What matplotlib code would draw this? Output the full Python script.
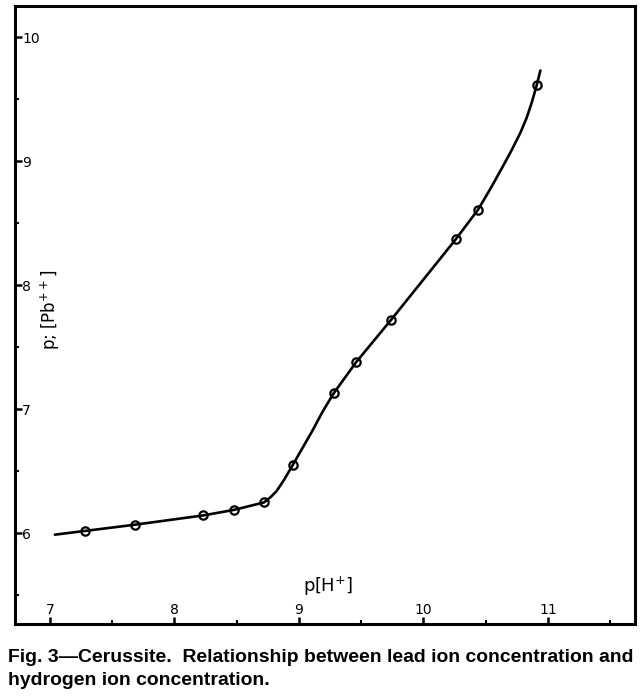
import matplotlib.pyplot as plt
from matplotlib.ticker import MultipleLocator

# measured points (circles)
ph_points = [7.28, 7.68, 8.23, 8.48, 8.72, 8.95, 9.28, 9.46, 9.74, 10.26, 10.44, 10.91]
ppb_points = [6.02, 6.07, 6.145, 6.19, 6.25, 6.55, 7.13, 7.38, 7.72, 8.37, 8.61, 9.61]

# hand-drawn curve
ph_curve = [7.04, 7.28, 7.68, 8.23, 8.48, 8.72, 8.77, 8.82, 8.88, 8.95, 9.03, 9.11, 9.19,
            9.28, 9.46, 9.74, 10.26, 10.44, 10.54, 10.64, 10.71, 10.78, 10.83, 10.87,
            10.91, 10.94]
ppb_curve = [5.99, 6.02, 6.07, 6.145, 6.19, 6.25, 6.29, 6.34, 6.43, 6.55, 6.69, 6.83, 6.98,
             7.13, 7.38, 7.72, 8.37, 8.61, 8.78, 8.96, 9.09, 9.23, 9.35, 9.47,
             9.61, 9.73]

x_ticks = [7, 8, 9, 10, 11]
y_ticks = [6, 7, 8, 9, 10]

caption_1 = "Fig. 3—Cerussite.  Relationship between lead ion concentration and"
caption_2 = "hydrogen ion concentration."

fig = plt.figure(figsize=(6.42, 6.96), dpi=100)
ax = fig.add_axes([0.0234, 0.1034, 0.9657, 0.888])

ax.plot(ph_curve, ppb_curve, color="black", lw=1.9, solid_capstyle="round",
        solid_joinstyle="round")
ax.plot(ph_points, ppb_points, "o", ms=6, mfc="none", mec="black", mew=1.6)

ax.set_xlim(6.72, 11.70)
ax.set_ylim(5.27, 10.25)
ax.set_xticks(x_ticks)
ax.set_yticks(y_ticks)
ax.xaxis.set_minor_locator(MultipleLocator(0.5))
ax.yaxis.set_minor_locator(MultipleLocator(0.5))
ax.tick_params(which="major", direction="in", length=5, width=1.8, labelsize=10)
ax.tick_params(which="minor", direction="in", length=3, width=1.5)
ax.tick_params(axis="y", pad=-5)
ax.tick_params(axis="x", pad=-5)
for lab in ax.get_yticklabels():
    lab.set_horizontalalignment("left")
for lab in ax.get_xticklabels():
    lab.set_verticalalignment("bottom")

for s in ax.spines.values():
    s.set_linewidth(2.2)

ax.text(9.03, 5.57, "p[H$^{+}$]", fontsize=13, ha="left", va="center")
ax.text(7.0, 7.80, "p; [Pb$^{++}$]", fontsize=12, ha="center", va="center", rotation=90)

cap_font = ["Liberation Sans", "DejaVu Sans"]
t1 = fig.text(0.012, 0.056, caption_1, fontsize=13, fontweight="bold",
              family=cap_font, ha="left", va="center")
# shrink the caption so the first line spans the figure width
renderer = fig.canvas.get_renderer()
w = t1.get_window_extent(renderer).width
size = 13 * (624 / w)
t1.set_fontsize(size)
fig.text(0.012, 0.022, caption_2, fontsize=size, fontweight="bold",
         family=cap_font, ha="left", va="center")

fig.savefig("out.png", dpi=100)
